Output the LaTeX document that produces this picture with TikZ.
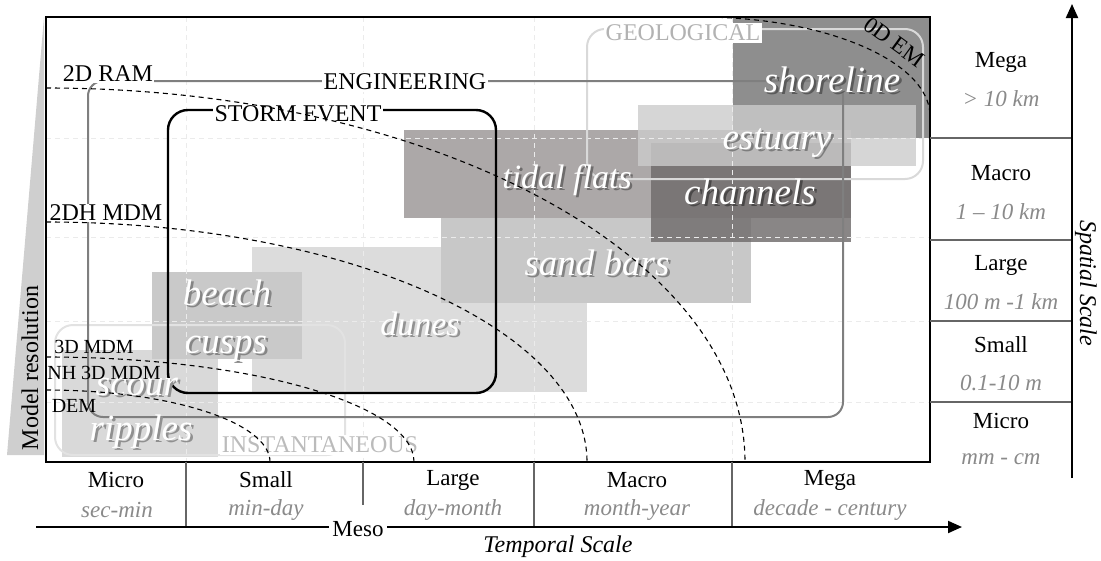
\documentclass[tikz,border=0pt]{standalone}
\usepackage{fontspec}
\setmainfont{Liberation Serif}
\usetikzlibrary{arrows.meta}
\definecolor{shoreC}{HTML}{8E8E8E}
\definecolor{tidalC}{HTML}{ACA8A8}
\definecolor{chanC}{HTML}{716D6D}
\definecolor{estC}{HTML}{CCCCCC}
\definecolor{sandC}{HTML}{C8C8C8}
\definecolor{duneC}{HTML}{DCDCDC}
\definecolor{beachC}{HTML}{C9C9C9}
\definecolor{scourC}{HTML}{D9D9D9}
\definecolor{wedgeC}{HTML}{CFCFCF}
\definecolor{gridC}{HTML}{EBEBEB}
\definecolor{subgray}{HTML}{8A8A8A}
\definecolor{engC}{HTML}{7F7F7F}
\definecolor{geoC}{HTML}{D9D9D9}
\definecolor{geoT}{HTML}{B2B2B2}
\definecolor{instC}{HTML}{E2E2E2}
\definecolor{instT}{HTML}{BBBBBB}
\definecolor{sepC}{HTML}{666666}
\definecolor{shShore}{HTML}{5A5A5A}
\definecolor{shEst}{HTML}{7D7D7D}
\definecolor{shChan}{HTML}{4A4848}
\definecolor{shTidal}{HTML}{6E6C6C}
\definecolor{shSand}{HTML}{848484}
\definecolor{shDune}{HTML}{939393}
\definecolor{shBeach}{HTML}{858585}
\definecolor{shScour}{HTML}{909090}
\newcommand\blocklabel[6]{%
  \node[blk,font=\fontsize{#4}{#4}\selectfont\itshape] (#1) at (#2,#3)
    {\rlap{\hspace{2.5pt}\raisebox{-2.5pt}{\textcolor{#5}{#6}}}#6};}
\begin{document}
\begin{tikzpicture}[x=1pt,y=-1pt,
  lbl/.style={font=\fontsize{23}{26}\selectfont, inner sep=1pt},
  sublbl/.style={font=\fontsize{23}{26}\selectfont\itshape, text=subgray, inner sep=1pt},
  blk/.style={text=white, anchor=base, inner sep=0pt},
  boxlbl/.style={font=\fontsize{24}{26}\selectfont, fill=white, inner sep=2pt},
  modlbl/.style={font=\fontsize{20}{22}\selectfont, inner sep=1pt},
  modcurve/.style={dash pattern=on 5pt off 4pt, line width=1.1pt, draw=black},
  gridline/.style={dash pattern=on 5pt off 4pt, line width=0.9pt, draw=gridC},
  axisline/.style={line width=2pt, draw=black},
  tip/.style={-{Triangle[length=14pt,width=12pt]}}
]
\useasboundingbox (0,0) rectangle (1101,560);

% model resolution wedge
\fill[wedgeC] (44,17) -- (44,455) -- (7,455) -- cycle;
\node[font=\fontsize{24}{26}\selectfont, rotate=90] (modres) at (30,368) {Model resolution};

% blocks
\fill[shoreC] (733,17) rectangle (930,138);
\fill[tidalC] (404,130) rectangle (851,218);
\fill[duneC] (252,247) rectangle (587,392);
\fill[sandC] (441,218) rectangle (751,303);
\fill[chanC, fill opacity=0.83] (651,143) rectangle (851,242);
\fill[estC, fill opacity=0.8] (638,105) rectangle (916,166);
\fill[scourC] (62,350) rectangle (218,457);
\fill[beachC] (152,272) rectangle (302,359);

% grid
\foreach \gx in {186,363,534,732} \draw[gridline] (\gx,17) -- (\gx,462);
\foreach \gy in {138,237,321,402} \draw[gridline] (46,\gy) -- (930,\gy);

% rounded scope boxes
\draw[geoC, line width=2pt, rounded corners=18pt] (587,29) rectangle (923,179);
\draw[instC, line width=2pt, rounded corners=18pt] (55,325) rectangle (345,455);
\draw[engC, line width=2pt, rounded corners=15pt] (88,81) rectangle (843,417);
\draw[black, line width=2.4pt, rounded corners=20pt] (168,110) rectangle (496,393);

% block labels
\blocklabel{shore}{832}{92}{37}{shShore}{shoreline}
\blocklabel{estuary}{777}{149}{37}{shEst}{estuary}
\blocklabel{channels}{750}{204}{37}{shChan}{channels}
\blocklabel{tidal}{567}{188}{34}{shTidal}{tidal flats}
\blocklabel{sandbars}{597}{275}{37}{shSand}{sand bars}
\blocklabel{dunes}{420}{335}{34}{shDune}{dunes}
\blocklabel{beach}{227}{305}{37}{shBeach}{beach}
\blocklabel{cusps}{226}{353}{37}{shBeach}{cusps}
\blocklabel{scour}{137}{395}{37}{shScour}{scour}
\blocklabel{ripples}{141}{440}{37}{shScour}{ripples}

% scope labels
\node[boxlbl, text=geoT] (geo) at (683,33) {GEOLOGICAL};
\node[boxlbl] (eng) at (405,82) {ENGINEERING};
\node[boxlbl] (storm) at (298,114) {STORM EVENT};
\node[boxlbl, text=instT] (inst) at (320,445) {INSTANTANEOUS};

% model labels
\node[boxlbl, inner sep=1pt] (ram) at (108,74) {2D RAM};
\node[boxlbl, inner sep=1pt] (mdm2dh) at (106,213) {2DH MDM};
\node[modlbl] (mdm3d) at (94,347) {3D MDM};
\node[modlbl] (nh3d) at (104,373) {NH 3D MDM};
\node[modlbl] (dem) at (74,406) {DEM};
\node[font=\fontsize{23}{25}\selectfont, inner sep=0pt, rotate=-36] (em0d) at (894,42) {0D EM};

% model resolution curves
\draw[modcurve] (46,390) .. controls (169.7,390) and (270,422.2) .. (270,462);
\draw[modcurve] (46,357) .. controls (249.2,357) and (414,404) .. (414,462);
\draw[modcurve] (46,222) .. controls (344.8,222) and (587,329.4) .. (587,462);
\draw[modcurve] (46,88) .. controls (432,88) and (745,255.4) .. (745,462);
\draw[modcurve] (700,17) .. controls (827,17) and (930,62) .. (930,116);

% frame
\draw[line width=2pt] (46,17) rectangle (930,462);

% right table
\foreach \ty in {138,240,321,402} \draw[sepC, line width=1.5pt] (930,\ty) -- (1072,\ty);
\node[lbl] (rmega) at (1001,62) {Mega};
\node[sublbl] (rmegas) at (1001,99) {> 10 km};
\node[lbl] (rmacro) at (1001,173) {Macro};
\node[sublbl] (rmacros) at (1001,212) {1 – 10 km};
\node[lbl] (rlarge) at (1001,265) {Large};
\node[sublbl] (rlarges) at (1001,302) {100 m -1 km};
\node[lbl] (rsmall) at (1001,345) {Small};
\node[sublbl] (rsmalls) at (1001,383) {0.1-10 m};
\node[lbl] (rmicro) at (1001,421) {Micro};
\node[sublbl] (rmicros) at (1001,459) {mm - cm};
\coordinate (sbot) at (1072,478);
\coordinate (stop) at (1072,4);
\draw[axisline, tip] (sbot) -- (stop);
\node[font=\fontsize{24}{26}\selectfont\itshape, rotate=-90] (spatial) at (1086,283) {Spatial Scale};

% bottom table
\draw[sepC, line width=1.3pt] (186,462) -- (186,527);
\draw[sepC, line width=1.3pt] (363,462) -- (363,505);
\draw[sepC, line width=1.3pt] (534,462) -- (534,527);
\draw[sepC, line width=1.3pt] (732,462) -- (732,527);
\coordinate (tleft) at (36,527);
\coordinate (tright) at (962,527);
\draw[axisline, tip] (tleft) -- (tright);
\node[lbl, fill=white, inner sep=3pt] (meso) at (358,529) {Meso};
\node[lbl] (bmicro) at (116,480) {Micro};
\node[sublbl] (bmicros) at (117,510) {sec-min};
\node[lbl] (bsmall) at (266,480) {Small};
\node[sublbl] (bsmalls) at (266,510) {min-day};
\node[lbl] (blarge) at (453,480) {Large};
\node[sublbl] (blarges) at (453,510) {day-month};
\node[lbl] (bmacro) at (637,480) {Macro};
\node[sublbl] (bmacros) at (637,510) {month-year};
\node[lbl] (bmega) at (830,480) {Mega};
\node[sublbl] (bmegas) at (830,510) {decade - century};
\node[font=\fontsize{24}{26}\selectfont\itshape] (temporal) at (558,547) {Temporal Scale};
\end{tikzpicture}
\end{document}
